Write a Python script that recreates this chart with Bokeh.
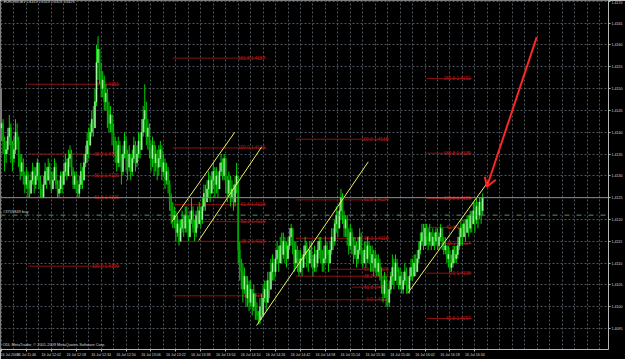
from bokeh.plotting import figure
from bokeh.models import Range1d, FixedTicker, Span, Label, ColumnDataSource, PrintfTickFormatter
from bokeh.embed import file_html
from bokeh.resources import INLINE
from bokeh.core.properties import value

# ---------------- data (EURUSD M1, 16 Jul 2009, minutes from 11:30) ----------------
BASE = 1.4000           # prices below are in pips above 1.4000
first_open_pips = 141
close_pips = [
    142,138,135,136,139,141,137,134,136,140,
    138,134,131,133,130,128,130,127,126,129,
    131,128,130,133,129,127,125,128,131,129,
    132,130,127,129,132,128,126,127,130,128,
    131,133,130,134,135,131,128,130,127,126,
    128,131,129,133,135,138,137,
    140,143,141,147,156,159,
    154,150,152,147,149,145,142,144,140,138,
    136,133,137,134,131,135,138,134,132,135,
    131,134,137,133,135,138,136,140,143,
    145,139,141,136,134,137,133,135,132,
    134,136,131,133,129,131,128,
    124,122,120,121,
    117,119,115,118,120,
    118,121,119,116,120,122,118,117,121,119,122,120,123,
    126,124,127,129,126,129,131,
    128,130,127,131,133,130,134,128,126,
    129,125,127,124,128,130,
    113,110,
    108,104,107,102,105,101,104,100,103,99,98,
    97,100,
    98,102,104,101,106,104,108,110,
    108,111,113,110,114,112,115,113,111,114,116,118,114,
    110,113,111,108,
    111,109,112,114,111,110,113,111,109,112,110,113,115,112,110,111,114,112,110,113,
    116,115,119,121,118,122,125,121,
    118,120,116,114,117,115,
    112,114,111,113,116,112,110,113,111,114,112,
    110,112,109,111,108,110,107,
    105,103,106,102,101,104,
    107,109,106,110,108,105,
    107,104,106,108,105,104,107,
    109,107,110,108,111,113,
    115,117,114,118,116,115,117,114,
    116,115,117,114,116,118,115,113,114,
    111,112,109,110,113,111,112,114,116,
    118,116,119,117,120,118,121,119,
    122,120,123,121,124,122,125,
]
high_pips = [
    150,143,139,138,141,144,142,138,139,143,
    142,139,135,135,134,131,132,131,129,131,
    133,132,132,134,133,130,128,130,133,132,
    134,133,131,131,134,133,129,129,131,131,
    133,135,134,136,137,136,132,131,131,129,
    130,133,132,135,137,140,141,
    142,145,146,150,160,162,
    158,156,154,153,151,150,147,146,144,142,
    139,138,139,138,135,137,140,139,136,137,
    135,136,139,138,137,140,140,143,146,
    151,147,143,142,138,139,138,137,136,
    137,138,137,135,134,133,132,
    129,126,124,123,
    122,121,120,120,122,
    121,123,123,121,122,125,123,120,122,123,124,123,125,
    128,128,129,131,130,131,133,
    132,132,131,133,135,134,135,134,130,
    131,130,129,128,130,133,
    129,115,
    111,110,109,107,107,106,106,104,105,103,101,
    99,102,
    103,105,106,106,108,108,111,112,
    111,113,115,114,116,117,117,116,115,116,118,119,118,
    115,115,114,113,
    113,112,114,116,115,113,115,115,112,114,113,115,116,116,113,114,116,115,113,115,
    118,118,120,123,122,124,127,126,
    122,121,121,118,119,118,
    116,116,115,116,118,117,113,115,115,116,115,
    114,114,113,113,112,112,111,
    109,107,108,107,104,106,
    108,112,111,112,111,109,
    109,108,108,110,109,107,109,
    111,111,112,112,113,115,
    117,119,119,119,119,118,119,117,
    118,117,118,118,117,119,118,116,116,
    114,114,113,112,114,114,114,116,118,
    120,119,120,120,121,121,122,122,
    124,124,125,124,125,125,126,
]
low_pips = [
    138,135,131,133,135,137,133,131,133,135,
    136,132,129,130,128,126,127,125,125,126,
    128,126,127,129,127,125,125,126,128,127,
    129,128,126,127,129,127,125,125,126,126,
    129,130,129,130,132,130,127,127,126,125,
    125,127,127,129,132,133,134,
    137,139,139,141,146,152,
    151,148,148,145,145,141,140,140,137,135,
    133,131,132,132,128,130,134,131,129,131,
    129,130,133,131,132,134,134,136,139,
    140,137,136,134,131,132,130,131,129,
    130,132,129,130,127,128,126,
    122,119,118,118,
    115,116,114,115,117,
    116,117,117,115,116,119,117,115,116,118,119,118,119,
    122,122,124,125,124,126,127,
    125,126,125,127,130,129,129,126,124,
    125,123,124,122,123,126,
    110,106,
    104,101,103,100,100,99,100,98,99,97,97,
    96,96,
    97,99,101,99,102,102,104,106,
    106,107,110,108,110,110,111,110,109,111,113,114,112,
    108,109,108,107,
    108,107,109,111,109,108,110,109,107,108,108,109,111,110,108,108,110,110,108,110,
    112,113,114,117,116,118,120,119,
    116,116,114,112,113,112,
    110,111,109,110,112,110,109,110,109,110,110,
    108,108,107,108,107,107,106,
    103,101,102,100,100,100,
    103,105,104,106,105,104,
    104,103,103,105,103,103,103,
    106,106,107,107,108,110,
    112,114,113,115,114,113,114,113,
    114,113,114,113,113,115,113,112,112,
    110,109,108,108,109,110,110,111,113,
    114,114,116,115,117,116,117,117,
    119,117,119,118,120,119,121,
]

time_labels = ["16 Jul 2009", "16 Jul 11:46", "16 Jul 12:02", "16 Jul 12:18", "16 Jul 12:34",
               "16 Jul 12:50", "16 Jul 13:06", "16 Jul 13:22", "16 Jul 13:38", "16 Jul 13:54",
               "16 Jul 14:10", "16 Jul 14:26", "16 Jul 14:42", "16 Jul 14:58", "16 Jul 15:14",
               "16 Jul 15:30", "16 Jul 15:46", "16 Jul 16:02", "16 Jul 16:18", "16 Jul 16:34"]
time_ticks = [0, 16, 32, 48, 64, 80, 96, 112, 128, 144, 160, 176, 192, 208, 224, 240, 256, 272, 288, 304]
price_ticks = [1.4095, 1.4100, 1.4105, 1.4110, 1.4115, 1.4120, 1.4125, 1.4130,
               1.4135, 1.4140, 1.4145, 1.4150, 1.4155, 1.4160, 1.4165, 1.4170]

bid_price = 1.4125
order_price = 1.4121
order_text = "#3709849 buy"
title_text = "EURUSD,M1  1.4125 1.4125 1.4125 1.4125"
copyright_text = "ODL MetaTrader, \u00a9 2001-2009 MetaQuotes Software Corp."

# Fibonacci levels: start minute, end minute, price, label
fib_t0 = [17, 17, 17, 17, 17,
          110, 110, 110, 110, 110, 110,
          189, 189, 189, 189, 225, 211, 189,
          273, 273, 273, 273, 273, 273, 273]
fib_t1 = [76, 76, 76, 76, 76,
          170, 170, 170, 170, 170, 170,
          249, 249, 249, 249, 249, 249, 249,
          302, 302, 302, 302, 302, 302, 302]
fib_price = [1.4151, 1.4135, 1.4130, 1.4125, 1.41093,
             1.4157, 1.41364, 1.41234, 1.41195, 1.4115, 1.41025,
             1.41384, 1.41245, 1.41157, 1.41016, 1.41045, 1.41086, 1.4107,
             1.41523, 1.41352, 1.41248, 1.41182, 1.41145, 1.41077, 1.40973]
fib_label = ["0.0  1.4151", "38.2  1.4135", "50.0  1.4130", "61.8  1.4125", "100.0  1.4109",
             "161.8  1.4157", "100.0  1.4136", "61.8  1.4123", "50.0  1.4119", "38.2  1.4115", "0.0  1.4103",
             "100.0  1.4138", "61.8  1.4124", "38.2  1.4116", "0.0  1.4102", "61.8  1.4110", "50.0  1.4109", "38.2  1.4107",
             "261.8  1.4152", "161.8  1.4135", "100.0  1.4125", "61.8  1.4118", "38.2  1.4114", "0.0  1.4108", "-61.8  1.4097"]

# yellow channel lines (minute, price)
trend_t0 = [109.4, 126.7, 163.8, 261.1]
trend_p0 = [1.41195, 1.41152, 1.40957, 1.41032]
trend_t1 = [149.8, 167.0, 235.5, 313.0]
trend_p1 = [1.41400, 1.41366, 1.41332, 1.41289]

# red arrow (shaft from top to tip, two head strokes)
arrow_t0 = [343.7, 310.4, 317.4]
arrow_p0 = [1.41618, 1.41298, 1.41291]
arrow_t1 = [311.7, 311.7, 311.7]
arrow_p1 = [1.41275, 1.41275, 1.41275]

# ---------------- build ----------------
n = len(close_pips)
assert len(high_pips) == n and len(low_pips) == n
t = list(range(n))
closes = [BASE + c / 10000 for c in close_pips]
opens = [BASE + first_open_pips / 10000] + closes[:-1]
highs = [max(BASE + h / 10000, o, c) for h, o, c in zip(high_pips, opens, closes)]
lows = [min(BASE + l / 10000, o, c) for l, o, c in zip(low_pips, opens, closes)]
btop = [max(o, c) for o, c in zip(opens, closes)]
bbot = [min(o, c) for o, c in zip(opens, closes)]
bcol = ["#a6f7a6" if c >= o else "#00a800" for o, c in zip(opens, closes)]

src = ColumnDataSource(dict(t=t, h=highs, l=lows, bt=btop, bb=bbot, col=bcol))

FONT = value("Liberation Sans")

p = figure(width=625, height=359, output_backend="svg", toolbar_location=None,
           x_range=Range1d(-0.64, 389.8), y_range=Range1d(1.40902, 1.41702),
           y_axis_location="right", background_fill_color="black",
           border_fill_color="black", min_border=0)
p.outline_line_color = None

# axes
p.xaxis.ticker = FixedTicker(ticks=time_ticks)
p.xaxis.major_label_overrides = {k: v for k, v in zip(time_ticks, time_labels)}
p.xaxis.major_label_text_align = "left"
p.yaxis.ticker = FixedTicker(ticks=price_ticks)
p.yaxis.formatter = PrintfTickFormatter(format="%.4f")
for ax in (p.xaxis, p.yaxis):
    ax.major_label_text_font_size = "3.6px"
    ax.major_label_text_color = "#d8d8d8"
    ax.major_label_text_font = "Liberation Sans"
    ax.axis_line_color = "#b8b8b8"
    ax.major_tick_line_color = "#b8b8b8"
    ax.major_tick_out = 2
    ax.major_tick_in = 0
    ax.minor_tick_line_color = None
    ax.major_label_standoff = 1

# grids (dotted, every 8 minutes / 5 pips)
p.xgrid.ticker = FixedTicker(ticks=[m for m in range(0, 392, 8)])
p.ygrid.ticker = FixedTicker(ticks=price_ticks)
p.grid.grid_line_color = "#4c545c"
p.grid.grid_line_dash = "2 2"
p.grid.grid_line_width = 1

# fibonacci levels
fsrc = ColumnDataSource(dict(t0=fib_t0, t1=fib_t1, y=fib_price, lab=fib_label))
p.segment(x0="t0", y0="y", x1="t1", y1="y", source=fsrc, line_color="#8e1010", line_width=1)
p.text(x="t1", y="y", text="lab", source=fsrc, text_align="right", text_baseline="middle",
       text_font_size="4.6px", text_color="#b81c1c", text_font=FONT)

# bid and order lines
p.add_layout(Span(location=bid_price, dimension="width", line_color="#8a8a8a", line_width=1))
p.add_layout(Span(location=order_price, dimension="width", line_color="#5f8f5f",
                  line_width=1, line_dash="5 3 1 3"))

# candles
p.segment(x0="t", y0="h", x1="t", y1="l", source=src, line_color="#00d400", line_width=1)
p.vbar(x="t", width=0.75, top="bt", bottom="bb", source=src, fill_color="col",
       line_color="col", line_width=0.4)

# yellow channels
p.segment(x0=trend_t0, y0=trend_p0, x1=trend_t1, y1=trend_p1, line_color="#f0f060", line_width=1)

# red arrow
p.segment(x0=arrow_t0, y0=arrow_p0, x1=arrow_t1, y1=arrow_p1, line_color="#ff2626", line_width=2)

# texts
p.add_layout(Label(x=3, y=350, x_units="screen", y_units="screen", text=title_text,
                   text_font_size="3.7px", text_color="#d8d8d8", text_font="Liberation Sans",
                   text_baseline="top"))
p.add_layout(Label(x=2, y=3, x_units="screen", y_units="screen", text=copyright_text,
                   text_font_size="3.9px", text_color="#d8d8d8", text_font="Liberation Sans",
                   text_baseline="bottom"))
p.add_layout(Label(x=1, y=order_price, x_units="data", text=order_text, x_offset=0, y_offset=1,
                   text_font_size="4px", text_color="#d0d0d0", text_font="Liberation Sans",
                   text_baseline="bottom"))
p.add_layout(Label(x=389.8, y=bid_price, text="1.4125", x_offset=1,
                   text_font_size="3.6px", text_color="black", text_font="Liberation Sans",
                   text_baseline="middle", background_fill_color="white", padding=1))

open("out.html", "w").write(file_html(p, INLINE))
